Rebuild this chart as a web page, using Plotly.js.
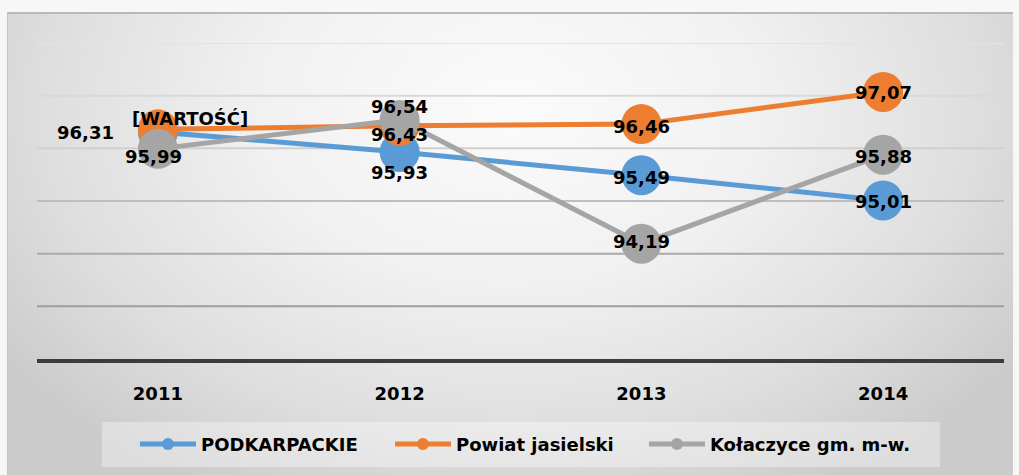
<!DOCTYPE html>
<html>
<head>
<meta charset="utf-8">
<script src="https://cdn.plot.ly/plotly-3.0.1.min.js"></script>
<style>
  body { margin: 0; background: #f7f7f7; }
  #frame {
    position: absolute; left: 7px; top: 12px; width: 1005px; height: 463px;
    border-top: 2px solid #b9b9b9; border-left: 1px solid #c4c4c4;
    background: radial-gradient(ellipse 62% 95% at 50% 20%, #fbfbfb 0%, #f1f1f1 40%, #dedede 75%, #cbcbcb 100%);
  }
  #chart { position: absolute; left: 0; top: 0; width: 1019px; height: 475px; }
</style>
</head>
<body>
<div id="frame"></div>
<div id="chart"></div>
<script>
// Years on the category axis
const years = ['2011', '2012', '2013', '2014'];

// Series values
const podkarpackie = [96.31, 95.93, 95.49, 95.01];
const powiatJasielski = [96.36, 96.43, 96.46, 97.07];
const kolaczyce = [95.99, 96.54, 94.19, 95.88];

// Label text that replaces the number (Excel placeholder in the source)
const powiatLabelOverrides = ['[WARTOŚĆ]', null, null, null];

// Value gridlines
const gridValues = [93, 94, 95, 96, 97, 98];

const fontFamily = 'DejaVu Sans, Verdana, sans-serif';
const legendFont = { family: fontFamily, size: 18, color: '#000000', weight: 'bold' };

function fmt(v) {
  return v.toFixed(2).replace('.', ',');
}

const series = [
  { name: 'PODKARPACKIE', values: podkarpackie, color: '#5b9bd5', legend: 'legend',
    shifts: [[-72, 0], [0, 20], [0, 2], [0, 1]], overrides: [] },
  { name: 'Powiat jasielski', values: powiatJasielski, color: '#ed7d31', legend: 'legend2',
    shifts: [[32, -11], [0, 9], [0, 2], [0, 1]], overrides: powiatLabelOverrides },
  { name: 'Kołaczyce gm. m-w.', values: kolaczyce, color: '#a5a5a5', legend: 'legend3',
    shifts: [[-4, 8], [0, -13], [0, -2], [0, 2]], overrides: [] }
];

const traces = series.map(s => ({
  x: years,
  y: s.values,
  type: 'scatter',
  mode: 'lines+markers',
  name: s.name,
  legend: s.legend,
  line: { color: s.color, width: 5 },
  marker: { color: s.color, size: 40 },
  hoverinfo: 'skip'
}));

// data labels, placed on the category index of each year
const annotations = [];
series.forEach(s => {
  s.values.forEach((v, i) => {
    annotations.push({
      x: i,
      y: v,
      xref: 'x',
      yref: 'y',
      text: s.overrides[i] || fmt(v),
      showarrow: false,
      xshift: s.shifts[i][0],
      yshift: -s.shifts[i][1],
      font: { family: fontFamily, size: 18, color: '#000000', weight: 'bold' }
    });
  });
});

const gridColors = ['#9e9e9e', '#aaaaaa', '#bebebe', '#d0d0d0', '#d9d9d9', '#e3e3e3'];
const shapes = gridValues.map((g, i) => ({
  type: 'line',
  xref: 'paper',
  yref: 'y',
  x0: 0, x1: 1,
  y0: g, y1: g,
  layer: 'below',
  line: { color: gridColors[i], width: 2 }
}));

// legend background box
shapes.push({
  type: 'rect',
  xref: 'paper',
  yref: 'paper',
  x0: 0.067, x1: 0.934,
  y0: -0.342, y1: -0.199,
  layer: 'below',
  fillcolor: 'rgba(255,255,255,0.35)',
  line: { width: 0 }
});

function legendAt(x) {
  return {
    x: x,
    xanchor: 'left',
    y: -0.27,
    yanchor: 'middle',
    bgcolor: 'rgba(0,0,0,0)',
    itemsizing: 'constant',
    itemwidth: 56,
    font: legendFont
  };
}

const layout = {
  width: 1019,
  height: 475,
  margin: { l: 37, r: 15, t: 43, b: 116 },
  paper_bgcolor: 'rgba(0,0,0,0)',
  plot_bgcolor: 'rgba(0,0,0,0)',
  font: { family: fontFamily, color: '#000000' },
  showlegend: true,
  legend: legendAt(0.1013),
  legend2: legendAt(0.365),
  legend3: legendAt(0.6277),
  xaxis: {
    type: 'category',
    range: [-0.5, 3.5],
    showgrid: false,
    zeroline: false,
    showline: true,
    linecolor: '#3c3c3c',
    linewidth: 4,
    ticks: '',
    ticklabelstandoff: 15,
    tickfont: { family: fontFamily, size: 18, color: '#000000', weight: 'bold' }
  },
  yaxis: {
    range: [92, 98],
    showgrid: false,
    zeroline: false,
    showticklabels: false,
    ticks: ''
  },
  shapes: shapes,
  annotations: annotations
};

Plotly.newPlot('chart', traces, layout, { staticPlot: true, displayModeBar: false });
</script>
</body>
</html>
